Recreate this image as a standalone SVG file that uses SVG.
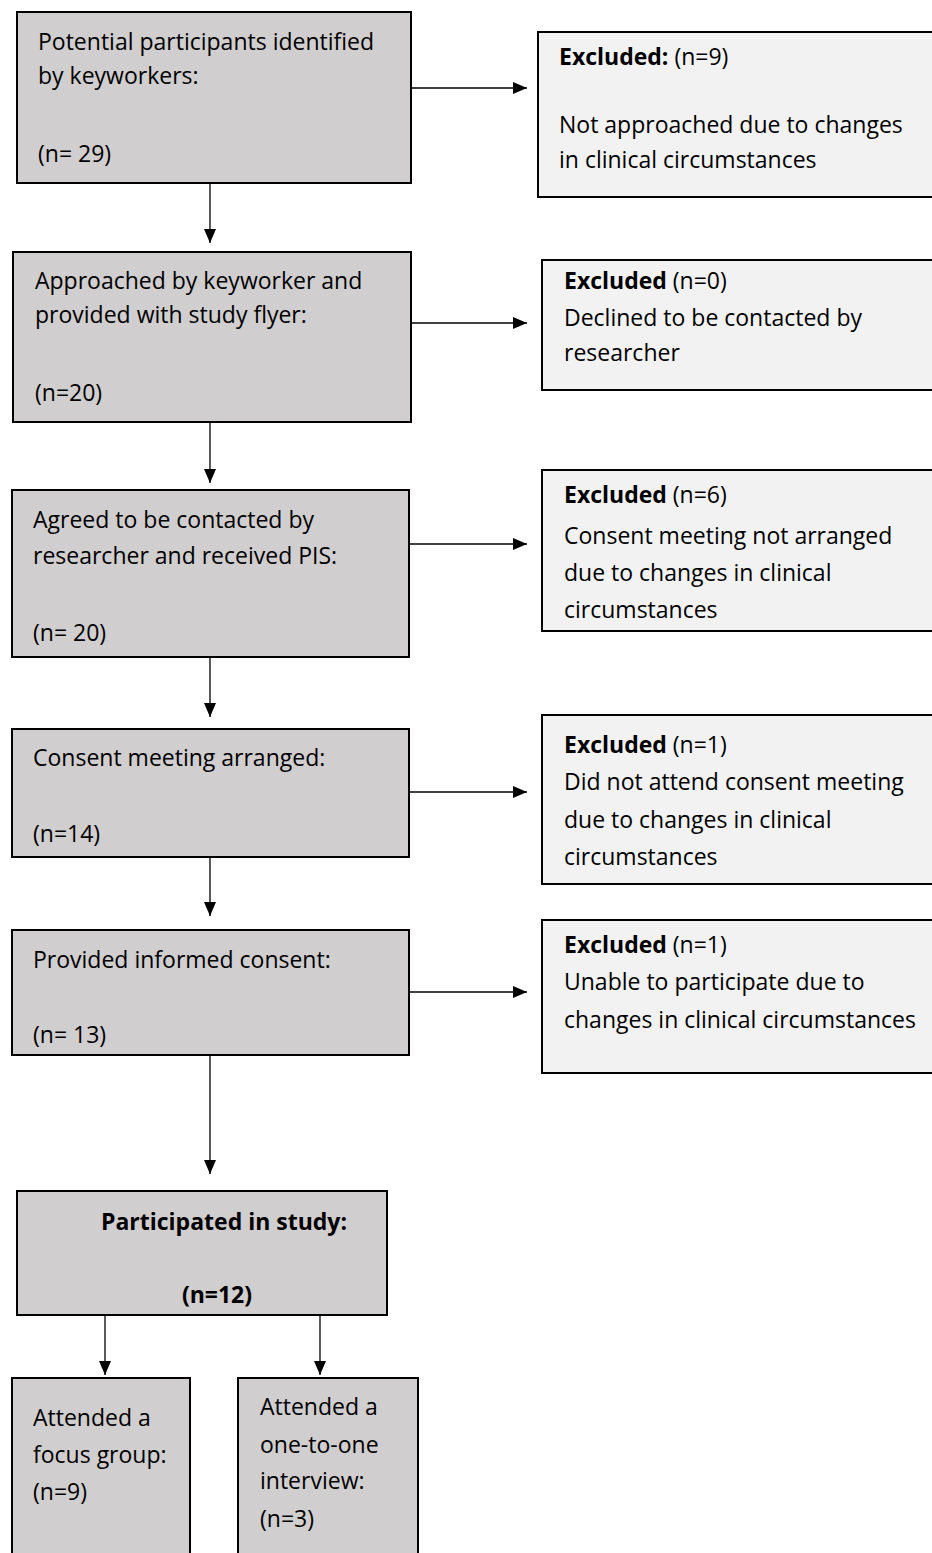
<svg xmlns="http://www.w3.org/2000/svg" width="932" height="1553" viewBox="0 0 932 1553">
<style>
text{font-family:"Open Sans","Liberation Sans",sans-serif;font-size:23px;fill:#000}
.b{font-weight:bold}
.main{fill:#d0cece;stroke:#000;stroke-width:2}
.exc{fill:#f2f2f2;stroke:#000;stroke-width:2}
.c line{stroke:#000;stroke-width:1.3;marker-end:url(#ah)}
</style>
<defs>
<marker id="ah" viewBox="0 0 14 12" refX="14" refY="6" markerWidth="14" markerHeight="12" markerUnits="userSpaceOnUse" orient="auto">
<path d="M0,0 L14,6 L0,12 z" fill="#000"/>
</marker>
</defs>
<g class="c" id="connectors">
<line x1="411" y1="88" x2="527" y2="88"/>
<line x1="210" y1="183" x2="210" y2="243"/>
<line x1="411" y1="323" x2="527" y2="323"/>
<line x1="210" y1="422" x2="210" y2="483"/>
<line x1="409" y1="544" x2="527" y2="544"/>
<line x1="210" y1="657" x2="210" y2="717"/>
<line x1="409" y1="792" x2="527" y2="792"/>
<line x1="210" y1="857" x2="210" y2="916"/>
<line x1="409" y1="992" x2="527" y2="992"/>
<line x1="210" y1="1055" x2="210" y2="1174"/>
<line x1="105" y1="1315" x2="105" y2="1375"/>
<line x1="320" y1="1315" x2="320" y2="1375"/>
</g>
<g id="n1">
<rect class="main" x="17" y="12" width="394" height="171"/>
<text x="38" y="50">Potential participants identified</text>
<text x="38" y="84">by keyworkers:</text>
<text x="38" y="162">(n= 29)</text>
</g>
<g id="e1">
<rect class="exc" x="538" y="32" width="396" height="165"/>
<text x="559" y="65"><tspan class="b">Excluded:</tspan> (n=9)</text>
<text x="559" y="133">Not approached due to changes</text>
<text x="559" y="168">in clinical circumstances</text>
</g>
<g id="n2">
<rect class="main" x="13" y="252" width="398" height="170"/>
<text x="35" y="289">Approached by keyworker and</text>
<text x="35" y="323">provided with study flyer:</text>
<text x="35" y="401">(n=20)</text>
</g>
<g id="e2">
<rect class="exc" x="542" y="260" width="392" height="130"/>
<text x="564" y="289"><tspan class="b">Excluded</tspan> (n=0)</text>
<text x="564" y="326">Declined to be contacted by</text>
<text x="564" y="361">researcher</text>
</g>
<g id="n3">
<rect class="main" x="12" y="490" width="397" height="167"/>
<text x="33" y="528">Agreed to be contacted by</text>
<text x="33" y="564">researcher and received PIS:</text>
<text x="33" y="641">(n= 20)</text>
</g>
<g id="e3">
<rect class="exc" x="542" y="470" width="392" height="161"/>
<text x="564" y="503"><tspan class="b">Excluded</tspan> (n=6)</text>
<text x="564" y="544">Consent meeting not arranged</text>
<text x="564" y="581">due to changes in clinical</text>
<text x="564" y="618">circumstances</text>
</g>
<g id="n4">
<rect class="main" x="12" y="729" width="397" height="128"/>
<text x="33" y="766">Consent meeting arranged:</text>
<text x="33" y="842">(n=14)</text>
</g>
<g id="e4">
<rect class="exc" x="542" y="715" width="392" height="169"/>
<text x="564" y="753"><tspan class="b">Excluded</tspan> (n=1)</text>
<text x="564" y="790">Did not attend consent meeting</text>
<text x="564" y="828">due to changes in clinical</text>
<text x="564" y="865">circumstances</text>
</g>
<g id="n5">
<rect class="main" x="12" y="930" width="397" height="125"/>
<text x="33" y="968">Provided informed consent:</text>
<text x="33" y="1043">(n= 13)</text>
</g>
<g id="e5">
<rect class="exc" x="542" y="920" width="392" height="153"/>
<text x="564" y="953"><tspan class="b">Excluded</tspan> (n=1)</text>
<text x="564" y="990">Unable to participate due to</text>
<text x="564" y="1028">changes in clinical circumstances</text>
</g>
<g id="n6">
<rect class="main" x="17" y="1191" width="370" height="124"/>
<text class="b" x="224" y="1230" text-anchor="middle">Participated in study:</text>
<text class="b" x="217" y="1303" text-anchor="middle">(n=12)</text>
</g>
<g id="n7">
<rect class="main" x="12" y="1378" width="178" height="185"/>
<text x="33" y="1426">Attended a</text>
<text x="33" y="1463">focus group:</text>
<text x="33" y="1500">(n=9)</text>
</g>
<g id="n8">
<rect class="main" x="238" y="1378" width="180" height="185"/>
<text x="260" y="1415">Attended a</text>
<text x="260" y="1453">one-to-one</text>
<text x="260" y="1489">interview:</text>
<text x="260" y="1527">(n=3)</text>
</g>
</svg>
